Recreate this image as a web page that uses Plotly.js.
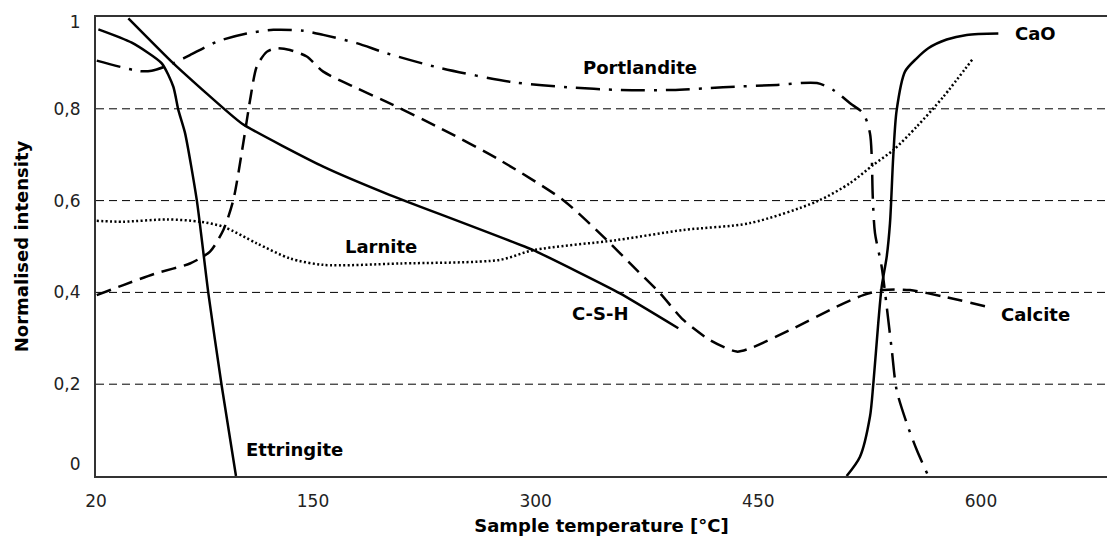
<!DOCTYPE html>
<html>
<head>
<meta charset="utf-8">
<script src="https://cdn.plot.ly/plotly-3.0.1.min.js"></script>
<style>
  html, body { margin: 0; padding: 0; background: #fff; }
  #chart { width: 1107px; height: 547px; }
</style>
</head>
<body>
<div id="chart"></div>
<script>
// ---- data ----
const ettringiteT = [5.4, 27.9, 48.1, 55.9, 59.3, 63.8, 71.7, 79.5, 88.5, 98.1];
const ettringiteI = [0.973, 0.944, 0.899, 0.848, 0.797, 0.747, 0.601, 0.398, 0.196, 0.0];

const cshT = [25.6, 55.9, 102.0, 156.9, 201.9, 298.4, 356.8, 396.1];
const cshI = [0.997, 0.899, 0.768, 0.674, 0.612, 0.492, 0.398, 0.322];

const portlanditeT = [4.3, 33.5, 41.3, 55.9, 67.1, 85.1, 105.3, 123.3, 143.5, 156.9, 179.4, 199.6, 235.6, 284.7, 321.1, 357.5, 391.9, 426.2, 462.6, 489.5, 500.5, 511.8, 520.7, 525.2, 526.4, 527.1, 528.6, 533.1, 536.5, 539.9, 543.2, 550.0, 556.7, 564.5];
const portlanditeI = [0.905, 0.882, 0.883, 0.899, 0.917, 0.946, 0.964, 0.972, 0.970, 0.961, 0.943, 0.921, 0.889, 0.858, 0.847, 0.841, 0.841, 0.847, 0.852, 0.856, 0.841, 0.812, 0.790, 0.747, 0.696, 0.608, 0.529, 0.456, 0.369, 0.275, 0.187, 0.115, 0.057, 0.0];

const caoT = [509.5, 518.5, 525.2, 527.5, 530.8, 533.1, 536.5, 538.7, 540.9, 543.2, 548.8, 556.7, 564.5, 576.9, 590.4, 611.7];
const caoI = [0.0, 0.042, 0.129, 0.202, 0.333, 0.412, 0.478, 0.551, 0.696, 0.797, 0.881, 0.910, 0.932, 0.951, 0.961, 0.964];

const calciteT = [4.3, 22.2, 44.7, 67.1, 80.6, 89.6, 96.3, 103.0, 107.6, 112.1, 118.8, 125.5, 134.5, 145.8, 156.9, 179.4, 199.6, 235.6, 276.0, 318.6, 347.9, 365.8, 383.8, 399.5, 417.5, 435.4, 444.4, 471.3, 502.8, 520.7, 534.2, 552.2, 574.6, 602.7];
const calciteI = [0.394, 0.416, 0.442, 0.463, 0.489, 0.536, 0.601, 0.725, 0.819, 0.892, 0.924, 0.932, 0.928, 0.914, 0.881, 0.845, 0.815, 0.758, 0.688, 0.601, 0.514, 0.456, 0.398, 0.340, 0.296, 0.271, 0.278, 0.318, 0.369, 0.394, 0.405, 0.405, 0.391, 0.370];

const larniteT = [4.3, 22.2, 51.4, 73.9, 89.6, 112.1, 134.5, 156.9, 208.6, 276.0, 298.4, 354.6, 399.5, 444.4, 489.3, 511.8, 527.5, 540.9, 556.7, 574.6, 594.8];
const larniteI = [0.556, 0.554, 0.559, 0.554, 0.543, 0.507, 0.474, 0.460, 0.463, 0.471, 0.492, 0.514, 0.536, 0.551, 0.598, 0.638, 0.678, 0.710, 0.761, 0.826, 0.910];

const seriesNames = ['Ettringite', 'C-S-H', 'Portlandite', 'CaO', 'Calcite', 'Larnite'];

const xTickVals = [3.8, 150, 300, 450, 600];
const xTickText = ['20', '150', '300', '450', '600'];
// label positions of the y ticks (the end labels sit slightly inside the frame, as in the reference)
const yTickVals = [0.027, 0.2, 0.4, 0.6, 0.8, 0.989];
const yTickText = ['0', '0,2', '0,4', '0,6', '0,8', '1'];
const yGridVals = [0.2, 0.4, 0.6, 0.8];

// ---- label placement (data coordinates) ----
const labelX = [137.2, 344.0, 370.0, 636.4, 636.9, 195.5];
const labelY = [0.057, 0.355, 0.889, 0.965, 0.351, 0.4996];

// ---- styles ----
const styles = [
  {dash: 'solid', smoothing: 0.6},
  {dash: 'solid', smoothing: 0.4},
  {dash: '24px,9px,3px,9px', smoothing: 0.8},
  {dash: 'solid', smoothing: 0.8},
  {dash: '15px,8px', smoothing: 0.7},
  {dash: '2px,2.4px', smoothing: 0.8}
];

const xs = [ettringiteT, cshT, portlanditeT, caoT, calciteT, larniteT];
const ys = [ettringiteI, cshI, portlanditeI, caoI, calciteI, larniteI];

const traces = xs.map((x, i) => ({
  type: 'scatter',
  mode: 'lines',
  name: seriesNames[i],
  x: x,
  y: ys[i],
  line: {color: '#000', width: 2.5, dash: styles[i].dash, shape: 'spline', smoothing: styles[i].smoothing},
  hoverinfo: 'skip'
}));

const annotations = seriesNames.map((n, i) => ({
  x: labelX[i], y: labelY[i], xref: 'x', yref: 'y',
  text: n, showarrow: false,
  font: {family: 'DejaVu Sans', size: 18, color: '#000', weight: 'bold'},
  xanchor: 'center', yanchor: 'middle'
}));

const shapes = yGridVals.map(v => ({
  type: 'line', xref: 'paper', yref: 'y', x0: 0, x1: 1, y0: v, y1: v,
  line: {color: '#000', width: 1, dash: '8px,5px'}, layer: 'below'
}));

const layout = {
  width: 1107, height: 547,
  margin: {l: 96, r: 0, t: 17, b: 71, pad: 0},
  paper_bgcolor: '#fff', plot_bgcolor: '#fff',
  separators: ', ',
  showlegend: false,
  font: {family: 'DejaVu Sans', size: 17, color: '#222'},
  xaxis: {
    range: [3.8, 684.9],
    tickmode: 'array', tickvals: xTickVals, ticktext: xTickText,
    showgrid: false, zeroline: false,
    showline: true, linecolor: '#333', linewidth: 2, mirror: true,
    ticks: '', ticklabelstandoff: 9,
    tickfont: {family: 'DejaVu Sans', size: 17, color: '#222'},
    title: {text: 'Sample temperature [°C]', standoff: 9,
            font: {family: 'DejaVu Sans', size: 18, color: '#000', weight: 'bold'}}
  },
  yaxis: {
    range: [0, 1],
    tickmode: 'array', tickvals: yTickVals, ticktext: yTickText,
    showgrid: false,
    zeroline: false,
    showline: true, linecolor: '#333', linewidth: 2,
    ticks: '', ticklabelstandoff: 10,
    tickfont: {family: 'DejaVu Sans', size: 17, color: '#222'},
    title: {text: 'Normalised intensity', standoff: 20,
            font: {family: 'DejaVu Sans', size: 18, color: '#000', weight: 'bold'}}
  },
  shapes: shapes,
  annotations: annotations
};

Plotly.newPlot('chart', traces, layout, {displayModeBar: false, staticPlot: true});
</script>
</body>
</html>
